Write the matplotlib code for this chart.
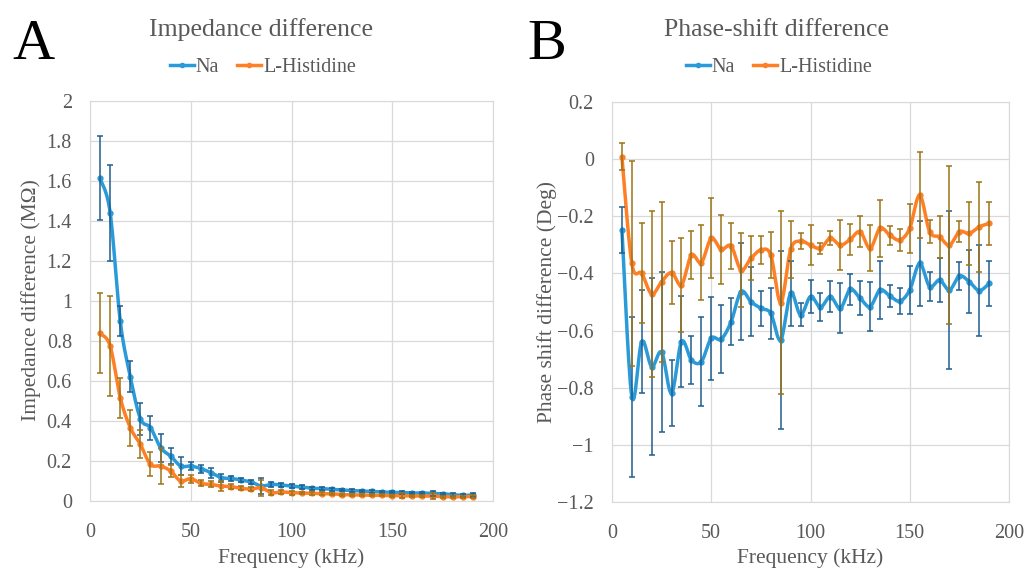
import numpy as np
import matplotlib
matplotlib.use("Agg")
import matplotlib.pyplot as plt
from matplotlib.lines import Line2D

plt.rcParams['font.family'] = ['Liberation Serif', 'DejaVu Serif']

freq = [5, 10, 15, 20, 25, 30, 35, 40, 45, 50, 55, 60, 65, 70, 75, 80, 85, 90, 95,
        100, 105, 110, 115, 120, 125, 130, 135, 140, 145, 150, 155, 160, 165, 170,
        175, 180, 185, 190]

# impedance difference (MOhm)
imp_na = [1.613, 1.442, 0.90, 0.622, 0.412, 0.367, 0.267, 0.225, 0.175, 0.175,
          0.162, 0.142, 0.117, 0.113, 0.105, 0.095, 0.075, 0.083, 0.080, 0.075,
          0.070, 0.064, 0.062, 0.058, 0.055, 0.052, 0.050, 0.048, 0.045, 0.044,
          0.042, 0.040, 0.040, 0.038, 0.036, 0.032, 0.028, 0.030]
imp_na_err = [0.21, 0.24, 0.075, 0.077, 0.08, 0.06, 0.07, 0.04, 0.045, 0.02,
              0.02, 0.025, 0.02, 0.012, 0.012, 0.01, 0.04, 0.012, 0.01, 0.01,
              0.008, 0.008, 0.008, 0.007, 0.007, 0.006, 0.006, 0.006, 0.006, 0.006,
              0.008, 0.006, 0.006, 0.012, 0.006, 0.006, 0.006, 0.008]
imp_his = [0.838, 0.775, 0.517, 0.367, 0.283, 0.183, 0.175, 0.150, 0.100, 0.112,
           0.088, 0.083, 0.075, 0.072, 0.063, 0.060, 0.066, 0.042, 0.045, 0.042,
           0.040, 0.038, 0.037, 0.036, 0.032, 0.031, 0.030, 0.029, 0.028, 0.027,
           0.026, 0.025, 0.025, 0.024, 0.022, 0.020, 0.022, 0.022]
imp_his_err = [0.2, 0.25, 0.1, 0.09, 0.07, 0.06, 0.09, 0.03, 0.03, 0.02,
               0.015, 0.015, 0.025, 0.012, 0.01, 0.01, 0.04, 0.012, 0.01, 0.01,
               0.006, 0.006, 0.006, 0.006, 0.005, 0.005, 0.005, 0.005, 0.005, 0.005,
               0.012, 0.005, 0.005, 0.015, 0.005, 0.005, 0.005, 0.006]

# phase shift difference (Deg)
ph_na = [-0.248, -0.831, -0.639, -0.726, -0.676, -0.819, -0.639, -0.703, -0.709, -0.627,
         -0.630, -0.569, -0.464, -0.499, -0.522, -0.540, -0.633, -0.470, -0.545, -0.481,
         -0.518, -0.481, -0.522, -0.456, -0.487, -0.516, -0.458, -0.479, -0.497, -0.458,
         -0.365, -0.446, -0.423, -0.458, -0.409, -0.429, -0.460, -0.435]
ph_na_err = [0.08, 0.28, 0.18, 0.31, 0.28, 0.115, 0.16, 0.085, 0.155, 0.145,
             0.12, 0.083, 0.17, 0.12, 0.062, 0.09, 0.31, 0.115, 0.04, 0.057,
             0.05, 0.055, 0.088, 0.055, 0.06, 0.085, 0.1, 0.04, 0.045, 0.085,
             0.15, 0.05, 0.076, 0.275, 0.05, 0.11, 0.158, 0.078]
ph_his = [0.008, -0.365, -0.400, -0.472, -0.429, -0.397, -0.440, -0.336, -0.362, -0.277,
          -0.316, -0.304, -0.388, -0.347, -0.318, -0.336, -0.502, -0.316, -0.287, -0.301,
          -0.312, -0.277, -0.301, -0.281, -0.254, -0.312, -0.242, -0.266, -0.283, -0.242,
          -0.126, -0.254, -0.272, -0.301, -0.254, -0.260, -0.237, -0.225]
ph_his_err = [0.047, 0.36, 0.175, 0.29, 0.28, 0.11, 0.165, 0.085, 0.13, 0.14,
              0.12, 0.08, 0.13, 0.077, 0.05, 0.08, 0.32, 0.1, 0.028, 0.07,
              0.02, 0.025, 0.088, 0.055, 0.055, 0.08, 0.1, 0.033, 0.037, 0.085,
              0.15, 0.04, 0.073, 0.277, 0.037, 0.11, 0.158, 0.075]

c_na, c_na_err = '#2A9BD8', '#1F5E8E'
c_his, c_his_err = '#FF7F27', '#9C7418'
txt = '#595959'
grid = '#D9D9D9'


def smooth(x, y, n=14):
    # excel style smoothed line (bezier through the points)
    P = np.column_stack([np.asarray(x, float), np.asarray(y, float)])
    P = np.vstack([P[0], P, P[-1]])
    t = np.linspace(0, 1, n, endpoint=False)[:, None]
    out = []
    for i in range(1, len(P) - 2):
        p0, p1, p2, p3 = P[i - 1], P[i], P[i + 1], P[i + 2]
        c1 = p1 + (p2 - p0) / 6
        c2 = p2 - (p3 - p1) / 6
        out.append((1 - t)**3 * p1 + 3 * (1 - t)**2 * t * c1 + 3 * (1 - t) * t**2 * c2 + t**3 * p2)
    out.append(P[-2][None])
    s = np.vstack(out)
    return s[:, 0], s[:, 1]


def draw(ax, y1, e1, y2, e2):
    for y, e, c, ce in [(y1, e1, c_na, c_na_err), (y2, e2, c_his, c_his_err)]:
        sx, sy = smooth(freq, y)
        ax.plot(sx, sy, color=c, lw=2.5, solid_capstyle='round', zorder=3)
        ax.plot(freq, y, 'o', color=c, ms=3.5, zorder=3)
        ax.errorbar(freq, y, yerr=e, fmt='none', ecolor=ce, elinewidth=1.1,
                    capsize=2.5, capthick=1.1, zorder=4)
    ax.set_xlim(0, 200)
    ax.set_xticks([0, 50, 100, 150, 200])
    ax.grid(True, color=grid, lw=0.9)
    ax.set_axisbelow(True)
    for s in ax.spines.values():
        s.set_color(grid)
    ax.tick_params(length=0, labelsize=14.5, colors=txt)
    ax.tick_params(axis='y', pad=13)
    ax.tick_params(axis='x', pad=16)


fig = plt.figure(figsize=(10.24, 5.69), dpi=100)

axA = fig.add_axes([90 / 1024, 68 / 569, 403 / 1024, 400 / 569])
draw(axA, imp_na, imp_na_err, imp_his, imp_his_err)
axA.set_ylim(0, 2)
axA.set_yticks(np.arange(0, 2.01, 0.2))
axA.set_yticklabels(['0', '0.2', '0.4', '0.6', '0.8', '1', '1.2', '1.4', '1.6', '1.8', '2'])

axB = fig.add_axes([612 / 1024, 67 / 569, 397 / 1024, 400 / 569])
draw(axB, ph_na, ph_na_err, ph_his, ph_his_err)
axB.set_ylim(-1.2, 0.2)
axB.set_yticks(np.arange(-1.2, 0.21, 0.2))
axB.set_yticklabels(['\u22121.2', '\u22121', '\u22120.8', '\u22120.6', '\u22120.4', '\u22120.2', '0', '0.2'])

# labels, titles, legends
fig.text(31 / 1024, 1 - 300 / 569, 'Impedance difference (M\u03a9)', rotation=90,
         ha='center', va='center', fontsize=15.5, color=txt)
fig.text(547 / 1024, 1 - 302 / 569, 'Phase shift difference (Deg)', rotation=90,
         ha='center', va='center', fontsize=15.5, color=txt)
fig.text(291 / 1024, 1 - 558 / 569, 'Frequency (kHz)', ha='center', va='center',
         fontsize=15.5, color=txt)
fig.text(810 / 1024, 1 - 558 / 569, 'Frequency (kHz)', ha='center', va='center',
         fontsize=15.5, color=txt)
fig.text(261 / 1024, 1 - 30 / 569, 'Impedance difference', ha='center', va='center',
         fontsize=18.5, color=txt)
fig.text(777 / 1024, 1 - 30 / 569, 'Phase-shift difference', ha='center', va='center',
         fontsize=18.5, color=txt)
fig.text(12 / 1024, 1 - 45 / 569, 'A', ha='left', va='center', fontsize=42, color='black')
fig.text(527 / 1024, 1 - 45 / 569, 'B', ha='left', va='center', fontsize=42, color='black')

handles = [Line2D([], [], color=c_na, lw=2.5, marker='o', ms=3),
           Line2D([], [], color=c_his, lw=2.5, marker='o', ms=3)]
for cx in (263, 779):
    fig.legend(handles, ['Na', 'L-Histidine'], loc='center', ncol=2,
               bbox_to_anchor=(cx / 1024, 1 - 67 / 569), frameon=False,
               fontsize=14.5, labelcolor=txt, handlelength=1.2, handletextpad=0.1,
               columnspacing=0.9)

fig.savefig('out.png', dpi=100)
